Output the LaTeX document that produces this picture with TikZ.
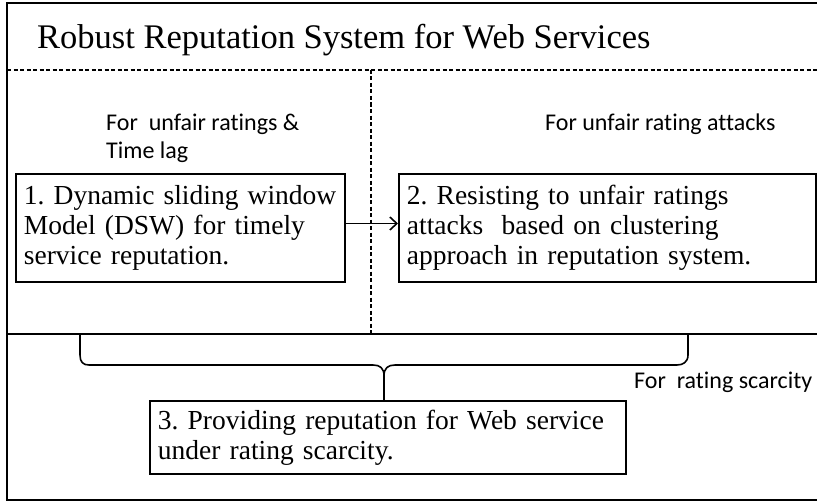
\documentclass[tikz,border=0pt]{standalone}
\usepackage{fontspec}
\setmainfont{Liberation Serif}
\newfontfamily\calfont[RawFeature=-liga]{Carlito}
\usetikzlibrary{arrows.meta,calc}
\tikzset{
  boxtext/.style={draw, line width=1.8pt, anchor=north west, align=left, inner xsep=8pt, inner ysep=0pt,
    font=\frenchspacing\fontsize{27.5}{30}\selectfont},
  lbl/.style={anchor=base west, font=\calfont\fontsize{24}{28}\selectfont, inner sep=0pt},
  dashline/.style={line width=1.1pt, dash pattern=on 4pt off 2.5pt},
  bracepath/.style={line width=1.6pt, line join=round},
}
\begin{document}
\begin{tikzpicture}[x=1pt,y=-1pt]
\useasboundingbox (0,0) rectangle (817,503);
\draw[line width=2pt] (7,3) rectangle (830,500);
\node[anchor=base west, inner sep=0pt, font=\fontsize{34.5}{36}\selectfont] (title) at (37,49) {Robust Reputation System for Web Services};
\coordinate (hl) at (7,70);
\coordinate (hr) at (817,70);
\draw[dashline] (hl) -- (hr);
\coordinate (vt) at (371,70);
\coordinate (vb) at (371,334);
\draw[dashline] (vt) -- (vb);
\coordinate (sl) at (7,334);
\coordinate (sr) at (817,334);
\draw[line width=1.2pt] (sl) -- (sr);

\node[lbl] (l1) at (106,130) {For\ \ unfair ratings \&};
\node[lbl] (l2) at (106,158) {Time lag};
\node[lbl] (l3) at (545,130) {For unfair rating attacks};
\node[lbl] (l4) at (634,388) {For\ \ rating scarcity};

\node[boxtext, text width=313pt, minimum height=108pt] (b1) at (15,173) {1. Dynamic sliding window\\Model (DSW) for timely\\service reputation.};
\node[boxtext, text width=401pt, minimum height=108pt] (b2) at (398,173) {2. Resisting to unfair ratings\\attacks\ \ based on clustering\\approach in reputation system.};
\node[boxtext, text width=460pt, minimum height=73pt] (b3) at (149,400) {3. Providing reputation for Web service\\under rating scarcity.};

\draw[line width=1.6pt, -{Straight Barb[length=7pt,width=13pt,line width=1.6pt]}] ($(b1.north east)!0.46!(b1.south east)$) -- ($(b2.north west)!0.46!(b2.south west)$);

\coordinate (bl) at (80,334);
\coordinate (br) at (688,334);
\coordinate (bc) at (384,376);
\draw[bracepath] (bl) -- (80,355) .. controls (80,362) and (83,365) .. (89,365) -- (373,365) .. controls (380,365) and (384,368) .. (bc)
  .. controls (384,368) and (388,365) .. (395,365) -- (677,365) .. controls (683,365) and (688,362) .. (688,355) -- (br);
\draw[bracepath] (bc) -- (b3.north -| bc);
\end{tikzpicture}
\end{document}
